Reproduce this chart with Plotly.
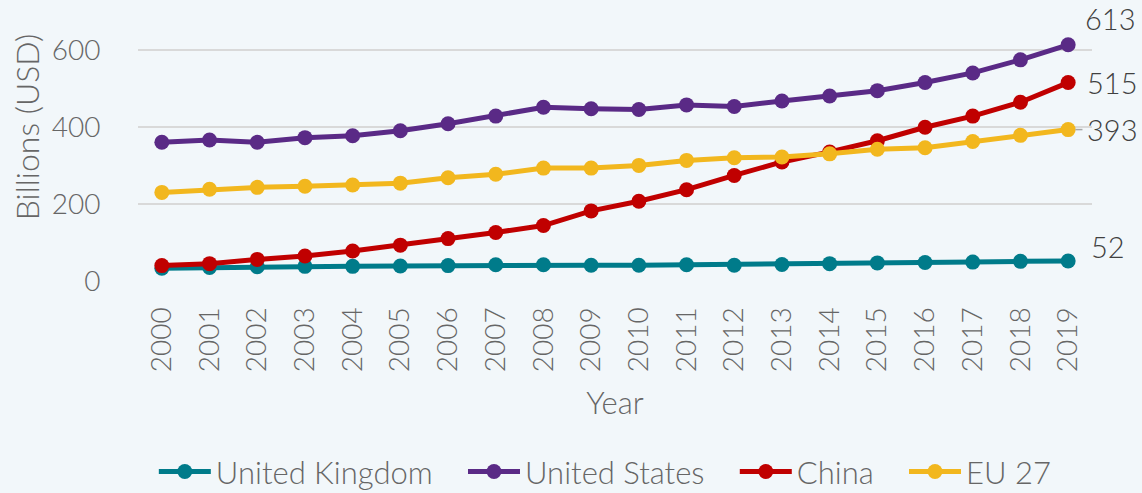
import plotly.graph_objects as go

years = list(range(2000, 2020))

uk = [33, 35, 37, 38, 38, 39, 40, 42, 42, 41, 41, 42, 41, 43, 45, 47, 48, 49, 51, 52]
us = [360, 366, 360, 372, 377, 390, 408, 428, 451, 447, 445, 457, 453, 467, 480, 494, 515, 540, 574, 613]
china = [40, 45, 56, 65, 78, 93, 110, 126, 144, 182, 207, 237, 274, 309, 335, 364, 399, 428, 464, 515]
eu27 = [230, 238, 243, 246, 249, 254, 268, 277, 293, 293, 300, 313, 320, 322, 330, 342, 346, 362, 378, 393]

series = [
    ("United Kingdom", uk, "#007B8A"),
    ("United States", us, "#5A2A86"),
    ("China", china, "#C00000"),
    ("EU 27", eu27, "#F2B71E"),
]

BG = "#F2F7FA"
FONT = "Lato"
GREY = "#666666"
PAD = "\u00a0" * 3  # spacing between legend entries

fig = go.Figure()
for name, vals, color in series:
    fig.add_trace(go.Scatter(
        x=years, y=vals, name=name + PAD, mode="lines+markers",
        line=dict(color=color, width=5),
        marker=dict(color=color, size=15),
        cliponaxis=False,
    ))

# end-of-line value labels
label_offsets = {"United States": (42, -26), "China": (44, 0), "EU 27": (44, 0), "United Kingdom": (40, -14)}
for name, vals, color in series:
    dx, dy = label_offsets[name]
    fig.add_annotation(
        x=years[-1], y=vals[-1], text=str(vals[-1]), showarrow=False,
        xanchor="center", yanchor="middle", xshift=dx, yshift=-dy,
        font=dict(family=FONT, size=29, color="#404040", weight=300),
    )

# short leader line for the EU 27 label
fig.add_shape(type="line", xref="x", yref="y", x0=years[-1] + 0.15, x1=years[-1] + 0.3,
              y0=eu27[-1], y1=eu27[-1], line=dict(color="#A6A6A6", width=1.5))

# y-axis title, placed as a rotated annotation
fig.add_annotation(
    text="Billions (USD)", xref="paper", yref="paper", x=-0.116, y=0.588,
    xanchor="center", yanchor="middle", textangle=-90, showarrow=False,
    font=dict(family=FONT, size=32, color=GREY, weight=300),
)

fig.update_layout(
    width=1142, height=493,
    paper_bgcolor=BG, plot_bgcolor=BG,
    margin=dict(l=138, r=50, t=19, b=212, autoexpand=False),
    font=dict(family=FONT, color=GREY, weight=300),
    showlegend=True,
    legend=dict(orientation="h", x=0.541, xanchor="center", xref="container",
                y=0.043, yanchor="middle", yref="container",
                font=dict(size=31, color=GREY, weight=300), itemwidth=52,
                tracegroupgap=0),
    xaxis=dict(
        range=[1999.5, 2019.5], tickmode="array", tickvals=years,
        ticktext=[str(y) for y in years], tickangle=-90,
        tickfont=dict(size=28, color=GREY, weight=300),
        ticks="outside", ticklen=14, tickcolor=BG,
        showgrid=False, zeroline=False, showline=False, automargin=False,
        title=dict(text="Year", font=dict(size=31, color=GREY, weight=300), standoff=21),
    ),
    yaxis=dict(
        range=[0, 680], tickvals=[0, 200, 400, 600],
        tickfont=dict(size=28, color=GREY, weight=300),
        ticks="outside", ticklen=31, tickcolor=BG,
        showgrid=True, gridcolor="#D9D9D9", gridwidth=1.5,
        zeroline=False, showline=False, automargin=False,
    ),
)

fig.write_html("out.html")
